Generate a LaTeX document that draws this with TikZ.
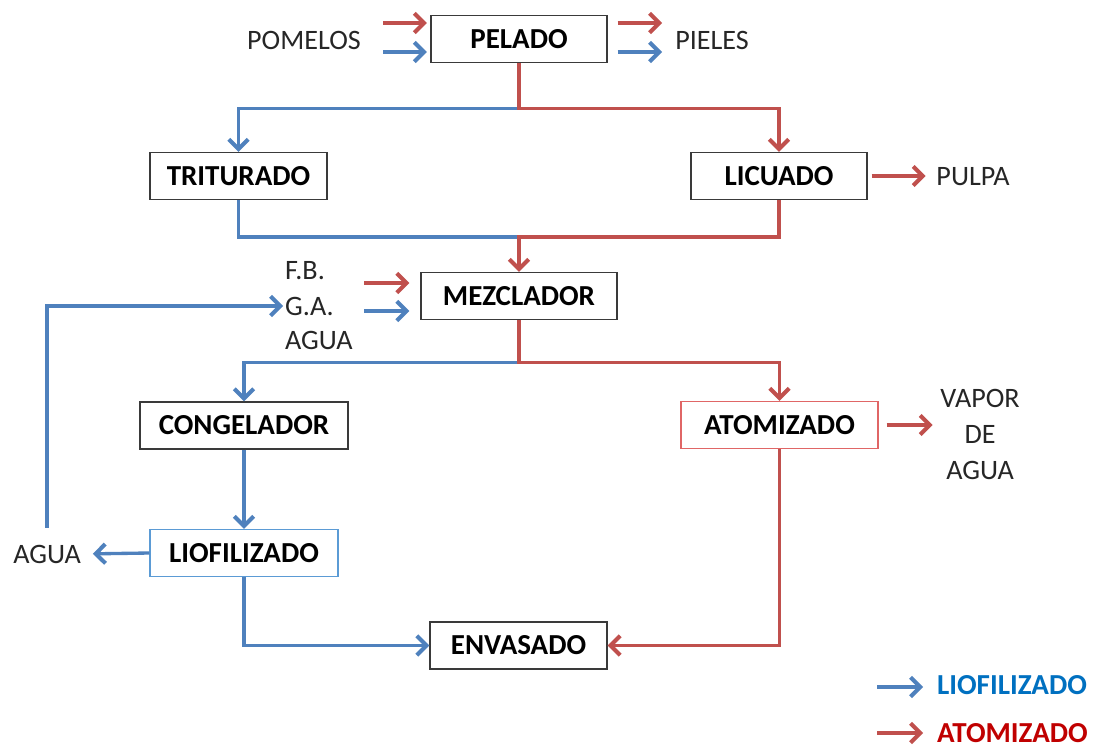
\documentclass[tikz,border=0pt]{standalone}
\usepackage{fontspec}
\setmainfont{Carlito}
\usetikzlibrary{arrows.meta}

\definecolor{azul}{HTML}{4F81BD}
\definecolor{rojo}{HTML}{C0504D}
\definecolor{gris}{HTML}{3A3A3A}
\definecolor{bordeazul}{HTML}{5B9BD5}
\definecolor{borderojo}{HTML}{E06666}
\definecolor{azulleyenda}{HTML}{0070C0}
\definecolor{rojoleyenda}{HTML}{C00000}

\begin{document}
\begin{tikzpicture}[x=0.02cm, y=-0.02cm,
    >={Straight Barb[length=5.5pt,width=11pt,line width=2.3pt]},
    caja/.style={draw=gris, line width=0.8pt, minimum height=0.94cm, inner sep=0pt,
                 font=\bfseries\fontsize{16.5}{19}\selectfont},
    texto/.style={font=\fontsize{16}{20.5}\selectfont, text=black!85, inner sep=1pt},
    lineaA/.style={azul, line width=1.9pt},
    lineaR/.style={rojo, line width=1.9pt}]

    \useasboundingbox (0,0) rectangle (1094,749);

    % Cajas
    \node[caja, minimum width=3.52cm] (pelado) at (519,39) {PELADO};
    \node[caja, minimum width=3.54cm] (triturado) at (238.5,176) {TRITURADO};
    \node[caja, minimum width=3.52cm] (licuado) at (779,176) {LICUADO};
    \node[caja, minimum width=3.92cm] (mezclador) at (519,296) {MEZCLADOR};
    \node[caja, minimum width=4.16cm] (congelador) at (244,425.5) {CONGELADOR};
    \node[caja, draw=borderojo, minimum width=3.94cm] (atomizado) at (779.5,425) {ATOMIZADO};
    \node[caja, draw=bordeazul, minimum width=3.76cm] (liofilizado) at (244,553) {LIOFILIZADO};
    \node[caja, minimum width=3.54cm] (envasado) at (518.5,645.5) {ENVASADO};

    % Textos
    \node[texto] (pomelos) at (304,40) {POMELOS};
    \node[texto] (pieles) at (712,40) {PIELES};
    \node[texto] (pulpa) at (973,177) {PULPA};
    \node[texto, anchor=west] (fb) at (283,271) {F.B.};
    \node[texto, anchor=west] (ga) at (283,306) {G.A.};
    \node[texto, anchor=west] (aguaIn) at (283,340) {AGUA};
    \node[texto, align=center] (vapor) at (980,434) {VAPOR\\DE\\AGUA};
    \node[texto] (aguaOut) at (47,554) {AGUA};

    % Entradas y salidas de pelado
    \coordinate (pomR) at (383,23);
    \coordinate (pomA) at (383,52);
    \coordinate (pielR) at (662,23);
    \coordinate (pielA) at (662,52);
    \draw[lineaR, ->, shorten >=2pt] (pomR) -- (pomR -| pelado.west);
    \draw[lineaA, ->, shorten >=2pt] (pomA) -- (pomA -| pelado.west);
    \draw[lineaR, ->, shorten <=0.2cm] (pielR -| pelado.east) -- (pielR);
    \draw[lineaA, ->, shorten <=0.2cm] (pielA -| pelado.east) -- (pielA);

    % Ramas
    \draw[lineaA, ->] (pelado.south) -- ++(0,45) -| (triturado.north);
    \draw[lineaR, ->] (pelado.south) -- ++(0,45) -| (licuado.north);
    \draw[lineaR, ->, shorten <=0.08cm] (licuado.east) -- ++(58,0);

    % Union hacia el mezclador
    \coordinate (union) at (519,237);
    \draw[lineaA] (triturado.south) |- (union);
    \draw[lineaR, ->] (licuado.south) |- (union) -- (mezclador.north);
    \coordinate (fbR) at (364,283);
    \coordinate (gaA) at (364,311);
    \draw[lineaR, ->, shorten >=0.22cm] (fbR) -- (fbR -| mezclador.west);
    \draw[lineaA, ->, shorten >=0.22cm] (gaA) -- (gaA -| mezclador.west);

    % Ramas del mezclador
    \draw[lineaA, ->] (mezclador.south) -- ++(0,42) -| (congelador.north);
    \draw[lineaR, ->] (mezclador.south) -- ++(0,42) -| (atomizado.north);
    \draw[lineaR, ->, shorten <=0.16cm] (atomizado.east) -- ++(54,0);

    % Liofilizado
    \draw[lineaA, ->] (congelador.south) -- (liofilizado.north);
    \draw[lineaA, ->, shorten >=0.2cm] (liofilizado.west) -- (aguaOut.east);
    \draw[lineaA, ->, shorten <=0.3cm] (aguaOut.north) |- (ga.west);

    % Envasado
    \draw[lineaA, ->] (liofilizado.south) |- (envasado.west);
    \draw[lineaR, ->] (atomizado.south) |- (envasado.east);

    % Leyenda
    \coordinate (leyA) at (877,687);
    \coordinate (leyR) at (877,733);
    \draw[lineaA, ->] (leyA) -- ++(46,0);
    \draw[lineaR, ->] (leyR) -- ++(46,0);
    \node[texto, anchor=west, text=azulleyenda, font=\bfseries\fontsize{16.5}{19}\selectfont] (leyLio) at (935,685) {LIOFILIZADO};
    \node[texto, anchor=west, text=rojoleyenda, font=\bfseries\fontsize{16.5}{19}\selectfont] (leyAto) at (935,733) {ATOMIZADO};
\end{tikzpicture}
\end{document}
